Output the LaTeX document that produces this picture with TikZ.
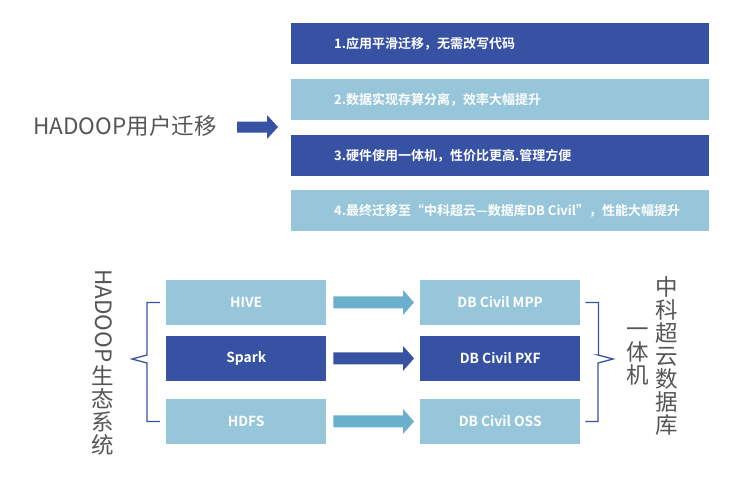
\documentclass[tikz,border=0pt]{standalone}
\usepackage{fontspec}
\setmainfont[BoldFont={Noto Sans CJK SC Bold}]{Noto Sans CJK SC}
\usetikzlibrary{calc}
\definecolor{darkb}{HTML}{3852A3}
\definecolor{lightb}{HTML}{97C6DA}
\definecolor{arrowl}{HTML}{6AAFCB}
\definecolor{grayt}{HTML}{555555}
\newcommand\blockarr[7]{% color, from, to, start gap, end gap, shaft half, head half
  \fill[#1] ([xshift=#4pt,yshift=#6pt]#2.east) -- ([xshift=-#5pt-11pt,yshift=#6pt]#3.west)
   -- ([xshift=-#5pt-11pt,yshift=#7pt]#3.west) -- ([xshift=-#5pt]#3.west)
   -- ([xshift=-#5pt-11pt,yshift=-#7pt]#3.west) -- ([xshift=-#5pt-11pt,yshift=-#6pt]#3.west)
   -- ([xshift=#4pt,yshift=-#6pt]#2.east) -- cycle;}
\begin{document}
\begin{tikzpicture}[x=1pt,y=-1pt,
  bar/.style={minimum width=418pt,minimum height=41pt,inner sep=0pt,anchor=north west},
  bartext/.style={anchor=west,text=white,font=\fontsize{13}{15}\selectfont\bfseries,inner sep=0pt},
  box/.style={minimum width=160pt,minimum height=44.5pt,inner sep=0pt,anchor=north west,text=white,font=\fontsize{13.8}{15}\selectfont\bfseries},
  bigtext/.style={text=grayt,font=\fontsize{22.5}{23}\selectfont,inner sep=0pt},
  brace/.style={draw=darkb,line width=1.3pt}]
\useasboundingbox (0,0) rectangle (735,482);
% top bars
\node[bar,fill=darkb] (b1) at (291,23) {};
\node[bar,fill=lightb] (b2) at (291,79) {};
\node[bar,fill=darkb] (b3) at (291,135) {};
\node[bar,fill=lightb] (b4) at (291,190) {};
\node[bartext] (t1) at ([xshift=43pt]b1.west) {1.应用平滑迁移，无需改写代码};
\node[bartext] (t2) at ([xshift=43pt]b2.west) {2.数据实现存算分离，效率大幅提升};
\node[bartext] (t3) at ([xshift=43pt]b3.west) {3.硬件使用一体机，性价比更高.管理方便};
\node[bartext] (t4) at ([xshift=43pt]b4.west) {4.最终迁移至“中科超云—数据库DB Civil”，性能大幅提升};
% left title and arrow
\node[bigtext] (user) at (125,126) {HADOOP用户迁移};
\coordinate (ua) at (237,127);
\coordinate (ub) at (278,127);
\fill[darkb] ([yshift=5.5pt]ua) -- ([xshift=-11pt,yshift=5.5pt]ub) -- ([xshift=-11pt,yshift=12pt]ub) -- (ub)
  -- ([xshift=-11pt,yshift=-12pt]ub) -- ([xshift=-11pt,yshift=-5.5pt]ub) -- ([yshift=-5.5pt]ua) -- cycle;
% bottom boxes
\node[box,fill=lightb] (hive) at (166,280) {HIVE};
\node[box,fill=darkb] (spark) at (166,336) {Spark};
\node[box,fill=lightb] (hdfs) at (166,399) {HDFS};
\node[box,fill=lightb] (mpp) at (420,280) {DB Civil MPP};
\node[box,fill=darkb] (pxf) at (420,336) {DB Civil PXF};
\node[box,fill=lightb] (oss) at (420,399) {DB Civil OSS};
\blockarr{arrowl}{hive}{mpp}{7}{6}{6}{12.5}
\blockarr{darkb}{spark}{pxf}{7}{6}{6}{12.5}
\blockarr{arrowl}{hdfs}{oss}{7}{6}{6}{12.5}
% braces
\coordinate (lt) at (132,359);
\coordinate (rt) at (613,359);
\draw[brace] ([xshift=-6pt]hive.west) -- ++(-13,0) |- ([yshift=4pt]lt -| 147,0) -- (lt)
  -- ([yshift=-4pt]lt -| 147,0) |- ([xshift=-6pt]hdfs.west);
\draw[brace] ([xshift=5pt]mpp.east) -- ++(13,0) |- ([yshift=4pt]rt -| 598,0) -- (rt)
  -- ([yshift=-4pt]rt -| 598,0) |- ([xshift=5pt]oss.east);
% vertical texts
\node[bigtext,rotate=-90,anchor=south west,yshift=-8pt] (eco1) at (103,269) {HADOOP};
\node[bigtext,anchor=north,align=center] (eco2) at (103,365) {生\\态\\系\\统};
\node[bigtext,align=center,anchor=center] (c1) at (667,356) {中\\科\\超\\云\\数\\据\\库};
\node[bigtext,align=center,anchor=center] (c2) at (638,357) {一\\体\\机};
\end{tikzpicture}
\end{document}
